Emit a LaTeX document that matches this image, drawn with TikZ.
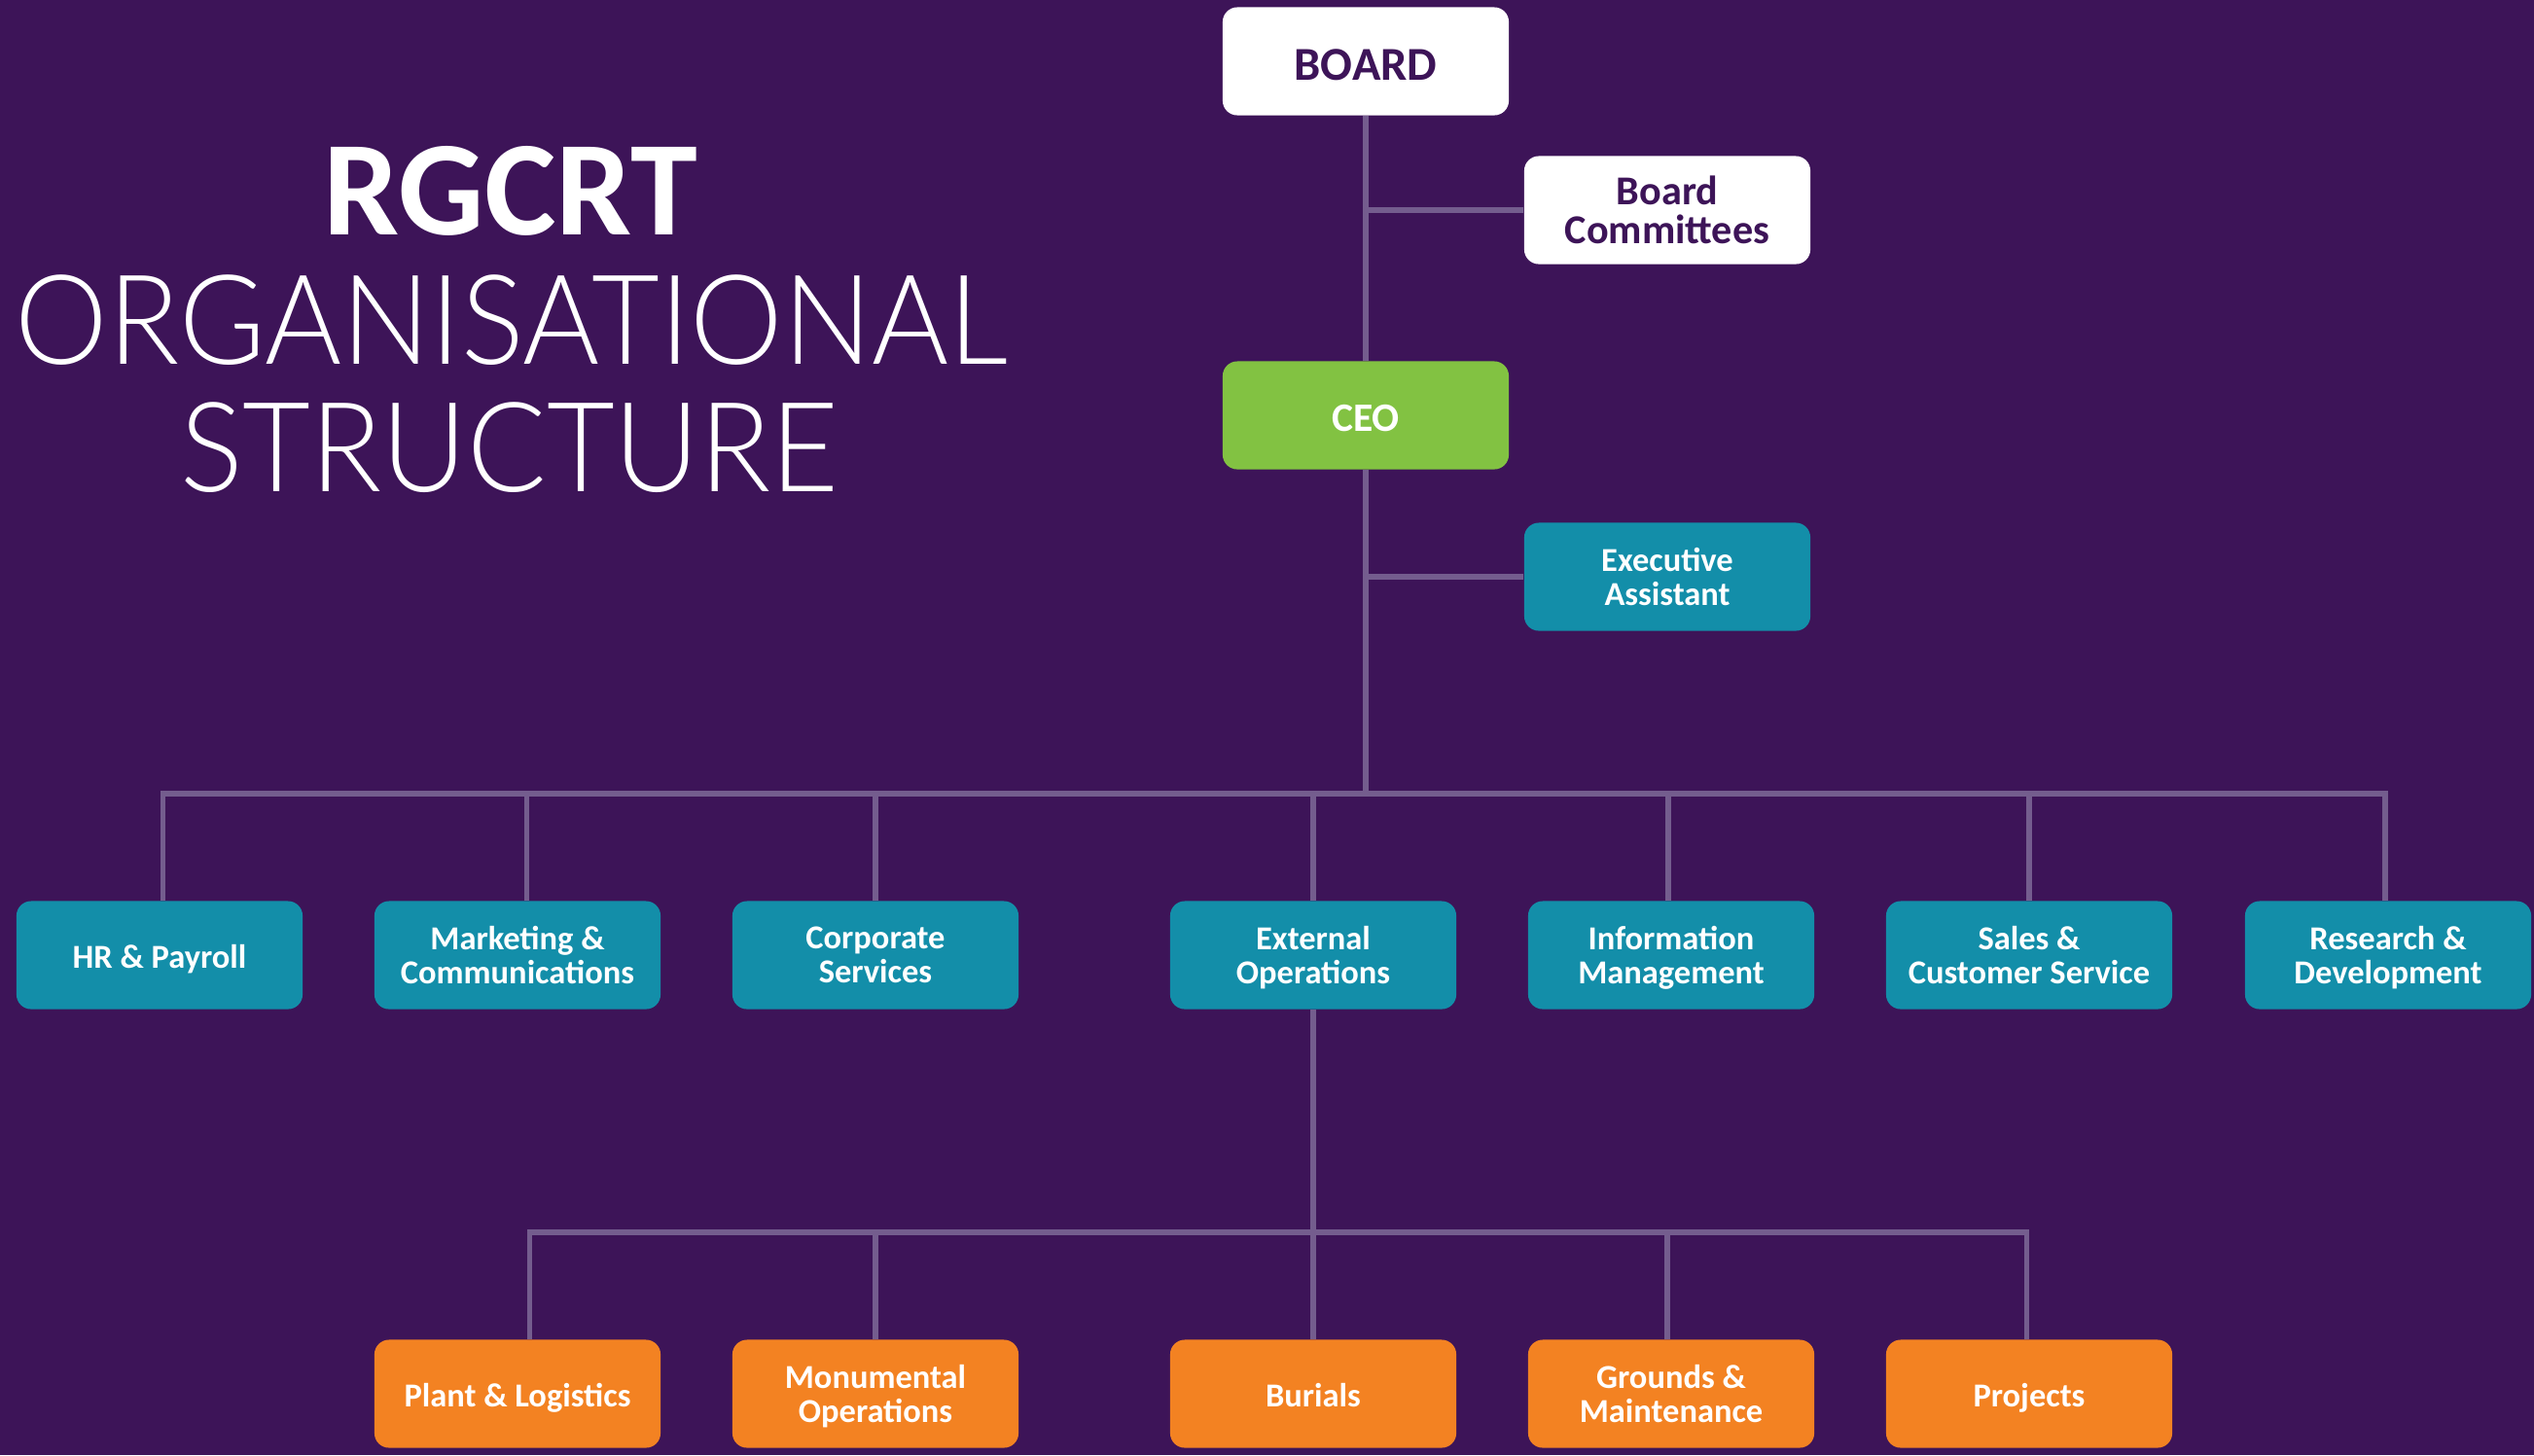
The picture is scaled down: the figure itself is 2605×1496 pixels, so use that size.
\documentclass[tikz,border=0pt]{standalone}
\usepackage{fontspec}
\setmainfont{Carlito}
\newfontfamily\lightfont{Lato Light}

\definecolor{bgpurple}{HTML}{3D1458}
\definecolor{linkgrey}{HTML}{745D8E}
\definecolor{tealbox}{HTML}{138EA9}
\definecolor{greenbox}{HTML}{82C242}
\definecolor{orangebox}{HTML}{F38222}

\tikzset{
  unit/.style={rounded corners=0.15cm, minimum width=2.94cm, minimum height=1.11cm,
    inner sep=0pt, align=center, font=\bfseries\fontsize{9.8}{9.9}\selectfont,
    execute at begin node={\rule{0pt}{1.05em}},
    execute at end node={\rule[-0.25em]{0pt}{0pt}}},
  twoline/.style={text depth=-6pt},
  whitebox/.style={unit, fill=white, text=bgpurple},
  tealunit/.style={unit, fill=tealbox, text=white},
  orangeunit/.style={unit, fill=orangebox, text=white},
  link/.style={draw=linkgrey, line width=0.052cm},
  title/.style={text=white, inner sep=0pt, anchor=base},
}

\begin{document}
\begin{tikzpicture}[x=0.01cm, y=-0.01cm]

    % Background
    \useasboundingbox (0,0) rectangle (2605,1496);
    \fill[bgpurple] (0,0) rectangle (2605,1496);

    % Title
    \node[title, font=\bfseries\fontsize{39.5}{40}\selectfont] (t1) at (525,241) {RGCRT};
    \node[title, font=\lightfont\fontsize{36.5}{40}\selectfont] (t2) at (526,374) {\scalebox{0.94}[1]{ORGANISATIONAL}};
    \node[title, font=\lightfont\fontsize{36.5}{40}\selectfont] (t3) at (524,505) {\scalebox{0.94}[1]{STRUCTURE}};

    % Board and CEO
    \node[whitebox, font=\bfseries\fontsize{13.8}{14}\selectfont] (board) at (1404,63) {BOARD};
    \node[whitebox, text depth=-9pt, font=\bfseries\fontsize{12}{11.4}\selectfont] (committees) at (1714,216) {Board\\Committees};
    \node[unit, fill=greenbox, text=white, font=\bfseries\fontsize{11.8}{12}\selectfont] (ceo) at (1404,427) {CEO};
    \node[tealunit, twoline] (assistant) at (1714,593) {Executive\\Assistant};

    % Departments
    \node[tealunit] (hr)            at (164,982)  {HR \& Payroll};
    \node[tealunit, twoline] (mkt)   at (532,982)  {Marketing \&\\Communications};
    \node[tealunit, twoline] (corp)  at (900,982)  {Corporate\\Services};
    \node[tealunit, twoline] (ext)   at (1350,982) {External\\Operations};
    \node[tealunit, twoline] (info)  at (1718,982) {Information\\Management};
    \node[tealunit, twoline] (sales) at (2086,982) {Sales \&\\Customer Service};
    \node[tealunit, twoline] (rnd)   at (2455,982) {Research \&\\Development};

    % External operations teams
    \node[orangeunit] (plant)          at (532,1433)  {Plant \& Logistics};
    \node[orangeunit, twoline] (monu)   at (900,1433)  {Monumental\\Operations};
    \node[orangeunit] (burial)         at (1350,1433) {Burials};
    \node[orangeunit, twoline] (ground) at (1718,1433) {Grounds \&\\Maintenance};
    \node[orangeunit] (proj)           at (2086,1433) {Projects};

    % Top line
    \coordinate (hub) at (1404,816);
    \draw[link] (board) -- (ceo);
    \draw[link] (ceo) -- (hub);
    \draw[link] (committees.west) -- (committees.west -| board);
    \draw[link] (assistant.west) -- (assistant.west -| ceo);

    % Department bus
    \draw[link] (hub) -| ([xshift=0.035cm]hr.north);
    \draw[link] (hub) -| ([xshift=0.095cm]mkt.north);
    \draw[link] (hub) -| (corp.north);
    \draw[link] (hub) -| (ext.north);
    \draw[link] (hub) -| ([xshift=-0.03cm]info.north);
    \draw[link] (hub) -| (sales.north);
    \draw[link] (hub) -| ([xshift=-0.03cm]rnd.north);

    % Team bus under external operations
    \coordinate (subhub) at (1351,1267);
    \draw[link] (ext.south) -- (ext.south |- subhub);
    \draw[link] (subhub) -| ([xshift=0.125cm]plant.north);
    \draw[link] (subhub) -| (monu.north);
    \draw[link] (subhub) -| (burial.north);
    \draw[link] (subhub) -| ([xshift=-0.04cm]ground.north);
    \draw[link] (subhub) -| ([xshift=-0.025cm]proj.north);

\end{tikzpicture}
\end{document}
